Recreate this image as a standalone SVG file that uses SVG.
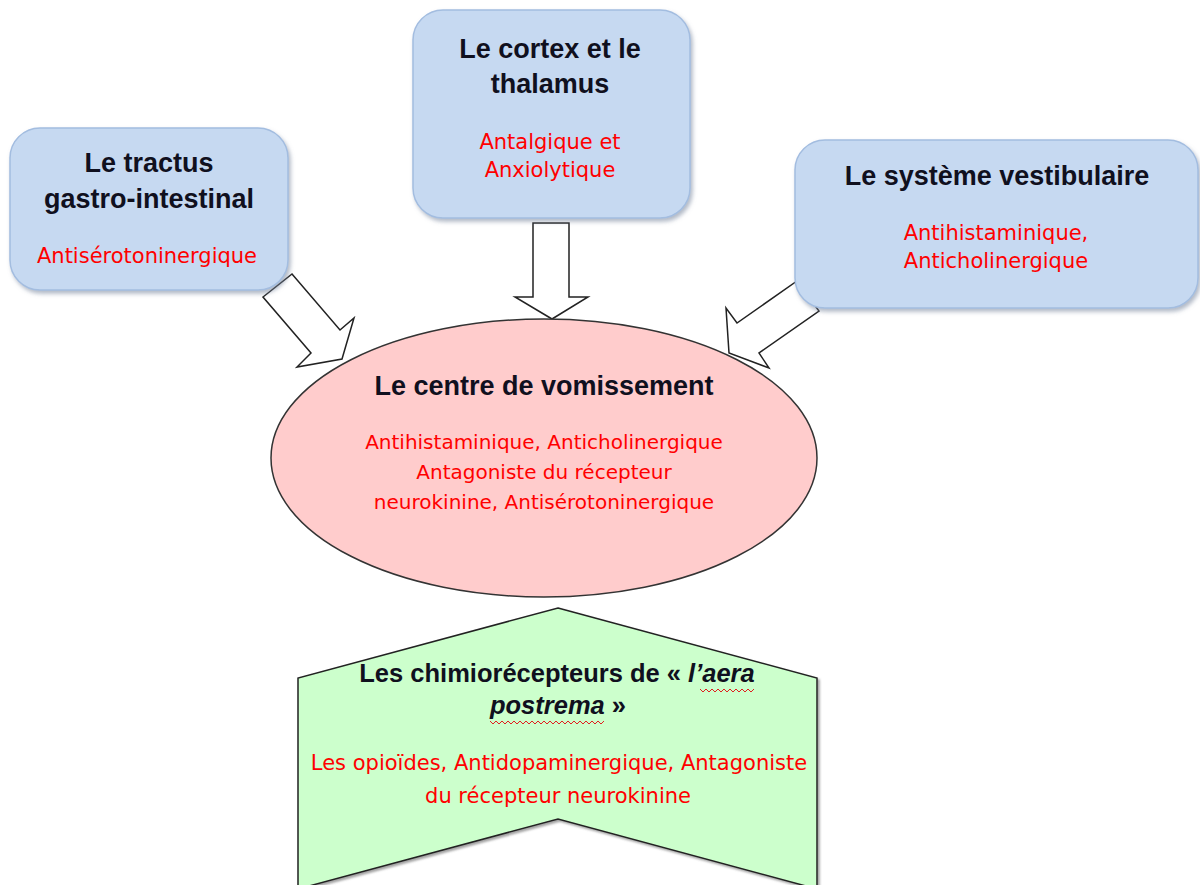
<svg xmlns="http://www.w3.org/2000/svg" width="1200" height="885" viewBox="0 0 1200 885">
<defs>
<filter id="sh" x="-10%" y="-10%" width="125%" height="130%">
<feDropShadow dx="2" dy="3" stdDeviation="2" flood-color="#6f7f99" flood-opacity="0.55"/>
</filter>
<filter id="sh2" x="-5%" y="-5%" width="115%" height="115%">
<feDropShadow dx="2" dy="2" stdDeviation="1" flood-color="#666" flood-opacity="0.6"/>
</filter>
</defs>
<style>
.box{fill:#c6d9f1;stroke:#a3bde0;stroke-width:1.5}
.t{font-family:"Liberation Sans",Arial,sans-serif;font-weight:bold;font-size:27px;fill:#10101e;text-anchor:middle}
.t.s{font-size:25.5px}
.r{font-family:"DejaVu Sans",Verdana,sans-serif;font-size:21px;fill:#ff0000;text-anchor:middle}
.r.s{font-size:20px}
.arr{fill:#ffffff;stroke:#222;stroke-width:1.5;stroke-linejoin:miter}
.wavy{fill:none;stroke:#e02020;stroke-width:1}
</style>
<rect width="1200" height="885" fill="#ffffff"/>

<g id="connectors">
<polygon class="arr" points="292,274 340,330 354,318 342,359 297,367 311,353 263,297"/>
<polygon class="arr" points="533,223 569,223 569,297 588,297 552,319 515,297 533,297"/>
<polygon class="arr" points="797,281 819,311 759,353 769,368 729,353 726,308 737,323"/>
</g>

<g id="tractus">
<rect class="box" x="10" y="128" width="278" height="162" rx="30" ry="30" filter="url(#sh)"/>
<text class="t" x="149" y="172">Le tractus</text>
<text class="t" x="149" y="208">gastro-intestinal</text>
<text class="r" x="147" y="263">Antisérotoninergique</text>
</g>

<g id="cortex">
<rect class="box" x="413" y="10" width="277" height="208" rx="30" ry="30" filter="url(#sh)"/>
<text class="t" x="550" y="58">Le cortex et le</text>
<text class="t" x="550" y="93">thalamus</text>
<text class="r" x="550" y="149">Antalgique et</text>
<text class="r" x="550" y="177">Anxiolytique</text>
</g>

<g id="vestibulaire">
<rect class="box" x="795" y="140" width="403" height="168" rx="30" ry="30" filter="url(#sh)"/>
<text class="t" x="997" y="185">Le système vestibulaire</text>
<text class="r" x="996" y="240">Antihistaminique,</text>
<text class="r" x="996" y="268">Anticholinergique</text>
</g>

<g id="centre">
<ellipse cx="544" cy="458" rx="273" ry="139" fill="#ffcccc" stroke="#333" stroke-width="1.5"/>
<text class="t" x="544" y="395">Le centre de vomissement</text>
<text class="r s" x="544" y="449">Antihistaminique, Anticholinergique</text>
<text class="r s" x="544" y="479">Antagoniste du récepteur</text>
<text class="r s" x="544" y="509">neurokinine, Antisérotoninergique</text>
</g>

<g id="chimiorecepteurs">
<polygon points="558,608 817,678 817,889 558,819 298,889 298,678" fill="#ccffcc" stroke="#222" stroke-width="1.5" filter="url(#sh2)"/>
<text class="t s" x="557" y="682">Les chimiorécepteurs de « <tspan font-style="italic">l’aera</tspan></text>
<text class="t s" x="558" y="714"><tspan font-style="italic">postrema</tspan> »</text>
<path class="wavy" d="M700,689 l3,3 l3,-3 l3,3 l3,-3 l3,3 l3,-3 l3,3 l3,-3 l3,3 l3,-3 l3,3 l3,-3 l3,3 l3,-3 l3,3 l3,-3 l3,3 l3,-3"/>
<path class="wavy" d="M490,721 l3,3 l3,-3 l3,3 l3,-3 l3,3 l3,-3 l3,3 l3,-3 l3,3 l3,-3 l3,3 l3,-3 l3,3 l3,-3 l3,3 l3,-3 l3,3 l3,-3 l3,3 l3,-3 l3,3 l3,-3 l3,3 l3,-3 l3,3 l3,-3 l3,3 l3,-3 l3,3 l3,-3 l3,3 l3,-3 l3,3 l3,-3 l3,3 l3,-3 l3,3 l3,-3"/>
<text class="r" x="559" y="770">Les opioïdes, Antidopaminergique, Antagoniste</text>
<text class="r" x="558" y="803">du récepteur neurokinine</text>
</g>
</svg>
